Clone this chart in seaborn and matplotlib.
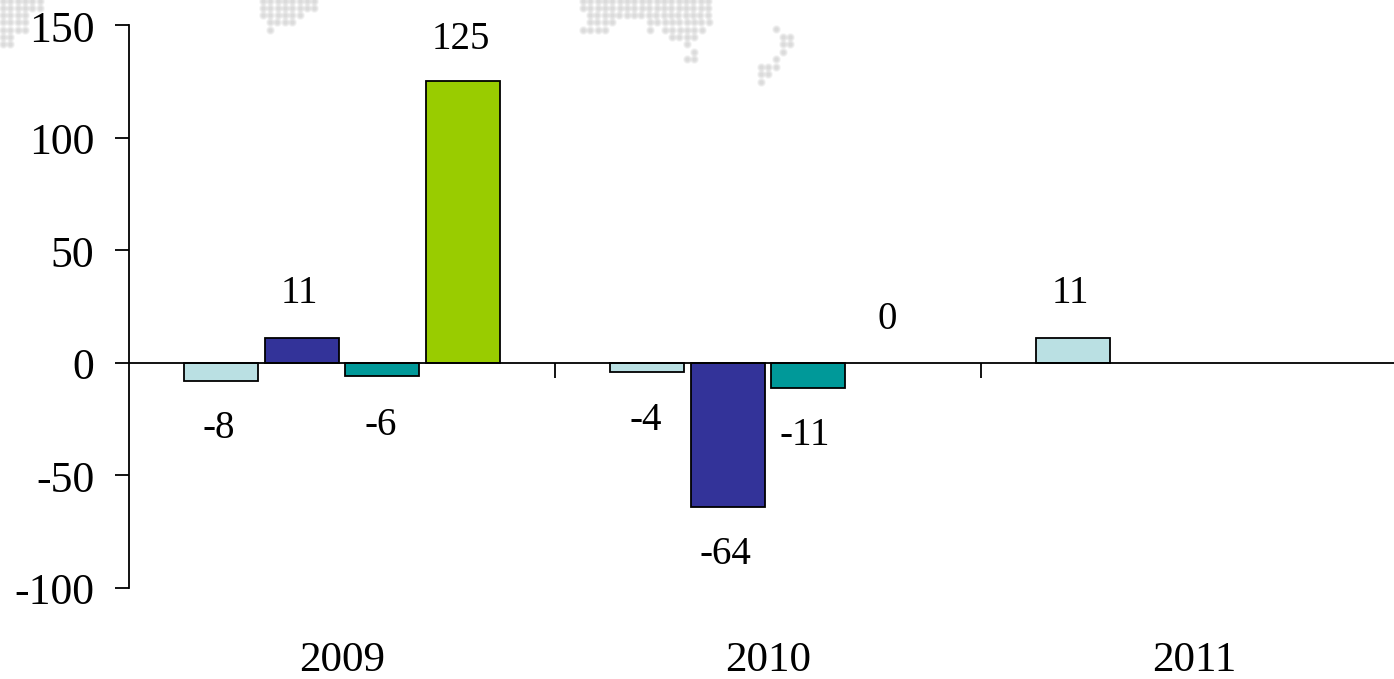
import numpy as np
import pandas as pd
import matplotlib
matplotlib.use("Agg")
import matplotlib.pyplot as plt
from matplotlib.transforms import ScaledTranslation
import seaborn as sns

# Chart values: one list per series, one entry per year
years = ["2009", "2010", "2011"]
series_a = [-8, -4, 11]
series_b = [11, -64, np.nan]
series_c = [-6, -11, np.nan]
series_d = [125, 0, np.nan]
series_names = ["A", "B", "C", "D"]
series_colors = ["#BAE0E3", "#333399", "#009999", "#99CC00"]

# Value label placement, in pixels from the end of each bar
label_nudges = {
    ("A", "2009"): (-2, -48), ("B", "2009"): (-2, 45), ("C", "2009"): (-2, -49), ("D", "2009"): (-2, 42),
    ("A", "2010"): (-1, -49), ("B", "2010"): (-2, -48), ("C", "2010"): (-4, -48), ("D", "2010"): (-2, 43),
    ("A", "2011"): (-3, 45),
}

# Dotted world-map backdrop: row height and the column runs covered on that row, in pixels
DOT_STEP = 7.35
backdrop_rows = [
    (1, [(3, 42), (263, 318), (583, 710)]),
    (8, [(3, 42), (263, 318), (583, 710)]),
    (15, [(3, 28), (263, 302), (590, 710)]),
    (22, [(3, 28), (270, 295), (590, 613), (650, 710)]),
    (30, [(3, 28), (270, 270), (583, 605), (650, 650), (665, 703)]),
    (37, [(3, 10), (672, 695), (783, 791)]),
    (44, [(3, 10), (687, 687), (783, 791)]),
    (29, [(776, 776)]),
    (52, [(694, 694), (783, 783)]),
    (59, [(687, 694), (776, 776)]),
    (67, [(761, 776)]),
    (74, [(761, 768)]),
    (82, [(761, 761)]),
]

W, H = 1394, 679
sns.set_theme(style="white")
plt.rcParams["font.family"] = ["Liberation Serif", "DejaVu Serif"]
plt.rcParams["axes.unicode_minus"] = False

fig = plt.figure(figsize=(W / 100, H / 100), dpi=100, facecolor="white")
ax = fig.add_axes([129 / W, 1 - 588 / H, (W - 129) / W, (588 - 25) / H], facecolor="none")

# Backdrop dots sit behind the transparent axes, layered so their edges fade out
dot_x, dot_y = [], []
for y, runs in backdrop_rows:
    for start, stop in runs:
        for x in np.arange(start, stop + 1, DOT_STEP):
            dot_x.append(x / W)
            dot_y.append(1 - y / H)
fig_dots = fig.add_axes([0, 0, 1, 1], zorder=-1)
fig_dots.set_xlim(0, 1)
fig_dots.set_ylim(0, 1)
fig_dots.axis("off")
for size, alpha in [(40, 0.16), (24, 0.22), (10, 0.3)]:
    fig_dots.scatter(dot_x, dot_y, s=size, color="#c0c0c0", linewidths=0, alpha=alpha)

table = pd.DataFrame({
    "year": years * 4,
    "series": np.repeat(series_names, 3),
    "value": series_a + series_b + series_c + series_d,
})

sns.barplot(
    data=table, x="year", y="value", hue="series", order=years, hue_order=series_names,
    palette=series_colors, width=0.756, gap=0.08, saturation=1, edgecolor="black",
    linewidth=1.3, legend=False, ax=ax, zorder=2,
)

ax.set_xlim(-0.5, (W - 129) / 426 - 0.5)
ax.set_ylim(-100, 150)
ax.set_xlabel("")
ax.set_ylabel("")

for side in ("top", "right"):
    ax.spines[side].set_visible(False)
ax.spines["bottom"].set_position(("data", 0))
for side in ("left", "bottom"):
    ax.spines[side].set_color("black")
    ax.spines[side].set_linewidth(1.3)
    ax.spines[side].set_zorder(3)

ax.set_yticks([-100, -50, 0, 50, 100, 150])
ax.tick_params(axis="y", direction="out", length=10, width=1.3, pad=15, labelsize=31.5, left=True, color="black", labelcolor="black")

# Major x ticks mark the year boundaries; the year names hang on unmarked minor ticks
ax.set_xticks([0.5, 1.5])
ax.set_xticklabels([])
ax.set_xticks([0, 1, 2], years, minor=True)
ax.tick_params(axis="x", which="major", direction="out", length=11, width=1.3, bottom=True, color="black")
ax.tick_params(axis="x", which="minor", length=0, pad=201, labelsize=31, labelcolor="black")

# Value labels read their number from the bar they describe
for name, container in zip(series_names, ax.containers):
    for year, patch in zip(years, container.patches):
        value = patch.get_height()
        if value == 0:
            patch.set_linewidth(0)
        if not np.isfinite(value) or (name, year) not in label_nudges:
            continue
        dx, dy = label_nudges[(name, year)]
        ax.annotate(
            f"{value:.0f}",
            xy=(patch.get_x() + patch.get_width() / 2, value),
            xytext=(dx, dy), textcoords="offset pixels",
            ha="center", va="center", fontsize=28, color="black", zorder=4,
        )

# Nudge the y labels down so they centre on their ticks
shift = ScaledTranslation(0, -1 / 100, fig.dpi_scale_trans)
for label in ax.get_yticklabels():
    label.set_transform(label.get_transform() + shift)

fig.savefig("out.png", dpi=100, facecolor="white")
